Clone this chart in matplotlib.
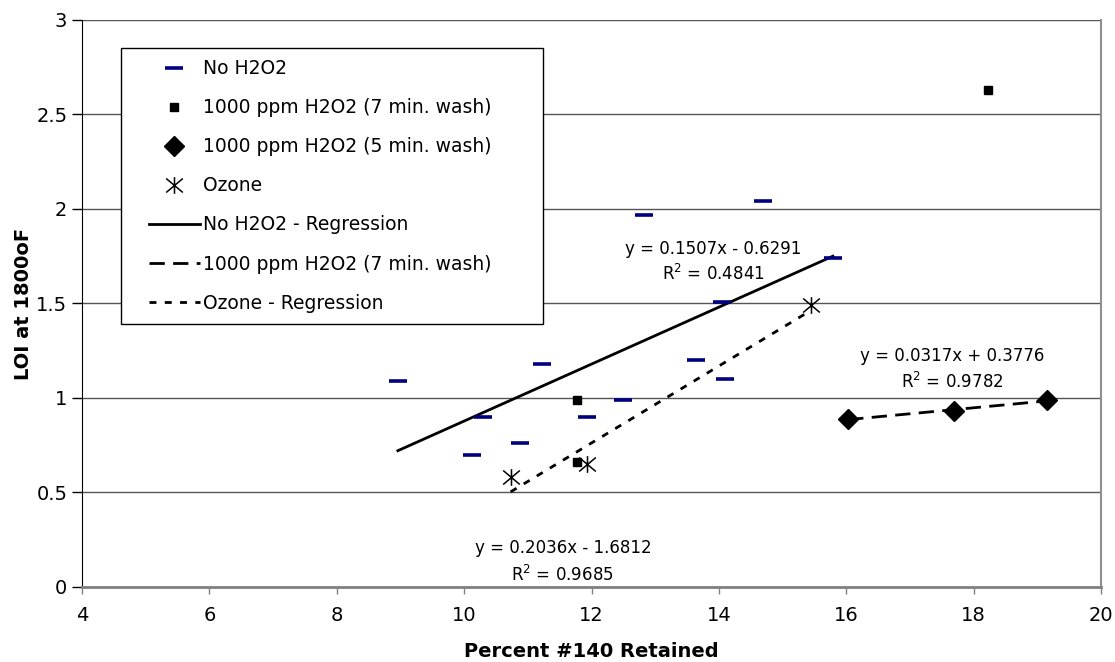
import matplotlib
matplotlib.use('Agg')
import matplotlib.pyplot as plt
from matplotlib.path import Path
from matplotlib.lines import Line2D
from matplotlib.legend_handler import HandlerLine2D

# data
no_h2o2_x = [8.96, 10.12, 10.30, 10.88, 11.22, 11.93, 12.49, 12.83, 13.64, 14.05, 14.09, 14.69, 15.79]
no_h2o2_y = [1.09, 0.70, 0.90, 0.76, 1.18, 0.90, 0.99, 1.97, 1.20, 1.51, 1.10, 2.04, 1.74]

wash7_x = [11.77, 11.77, 18.22]
wash7_y = [0.99, 0.66, 2.63]

wash5_x = [16.03, 17.69, 19.15]
wash5_y = [0.89, 0.93, 0.99]

ozone_x = [10.73, 11.93, 15.44]
ozone_y = [0.58, 0.65, 1.49]

# trendlines (slope, intercept) as printed on the chart
fit_no_h2o2 = (0.1507, -0.6291)
fit_wash5 = (0.0317, 0.3776)
fit_ozone = (0.2036, -1.6812)

eq_no_h2o2 = ['y = 0.1507x - 0.6291', 'R$^2$ = 0.4841']
eq_wash5 = ['y = 0.0317x + 0.3776', 'R$^2$ = 0.9782']
eq_ozone = ['y = 0.2036x - 1.6812', 'R$^2$ = 0.9685']

x_ticks = [4, 6, 8, 10, 12, 14, 16, 18, 20]
y_ticks = [0, 0.5, 1, 1.5, 2, 2.5, 3]
y_tick_labels = ['0', '0.5', '1', '1.5', '2', '2.5', '3']

plt.rcParams['font.family'] = ['DejaVu Sans']

# excel style star: X plus a vertical bar
star = Path([(-0.5, -0.42), (0.5, 0.42), (-0.5, 0.42), (0.5, -0.42), (0, -0.5), (0, 0.5)],
            [Path.MOVETO, Path.LINETO, Path.MOVETO, Path.LINETO, Path.MOVETO, Path.LINETO])

fig = plt.figure(figsize=(11.15, 6.62), dpi=100)
ax = fig.add_axes([0.0735, 0.1133, 0.9140, 0.8565])

h1, = ax.plot(no_h2o2_x, no_h2o2_y, ls='none', marker='_', ms=12.5, mew=2.6, color='#000080',
              label='No H2O2', zorder=4)
h2, = ax.plot(wash7_x, wash7_y, ls='none', marker='s', ms=6, color='black',
              label='1000 ppm H2O2 (7 min. wash)', zorder=4)
h3, = ax.plot(wash5_x, wash5_y, ls='none', marker='D', ms=10, color='black',
              label='1000 ppm H2O2 (5 min. wash)', zorder=4)
h4, = ax.plot(ozone_x, ozone_y, ls='none', marker=star, ms=12, mew=1.1, mfc='none', mec='black',
              label='Ozone', zorder=4)


def trend(xs, fit):
    x0, x1 = min(xs), max(xs)
    return [x0, x1], [fit[0] * x0 + fit[1], fit[0] * x1 + fit[1]]


lx, ly = trend(no_h2o2_x, fit_no_h2o2)
h5, = ax.plot(lx, ly, color='black', lw=2, label='No H2O2 - Regression', zorder=3)
lx, ly = trend(wash5_x, fit_wash5)
h6, = ax.plot(lx, ly, color='black', lw=2, ls=(0, (5.5, 3)),
              label='1000 ppm H2O2 (7 min. wash)', zorder=3)
lx, ly = trend(ozone_x, fit_ozone)
h7, = ax.plot(lx, ly, color='black', lw=2, ls=(0, (2.5, 3)), label='Ozone - Regression', zorder=3)

# regression equations
ax.text(13.91, 1.79, eq_no_h2o2[0], ha='center', va='center', fontsize=12)
ax.text(13.91, 1.655, eq_no_h2o2[1], ha='center', va='center', fontsize=12)
ax.text(17.66, 1.22, eq_wash5[0], ha='center', va='center', fontsize=12)
ax.text(17.66, 1.085, eq_wash5[1], ha='center', va='center', fontsize=12)
ax.text(11.55, 0.205, eq_ozone[0], ha='center', va='center', fontsize=12)
ax.text(11.55, 0.065, eq_ozone[1], ha='center', va='center', fontsize=12)

ax.set_xlim(4, 20)
ax.set_ylim(0, 3)
ax.set_xticks(x_ticks)
ax.set_yticks(y_ticks)
ax.set_yticklabels(y_tick_labels)
ax.grid(axis='y', color='#555555', lw=1)
ax.set_axisbelow(True)

ax.spines['top'].set_visible(False)
ax.spines['left'].set_color('black')
ax.spines['bottom'].set_color('#808080')
ax.spines['bottom'].set_linewidth(2)
ax.spines['right'].set_color('#909090')
ax.spines['right'].set_linewidth(1.5)

ax.tick_params(axis='y', direction='out', length=7, width=1, pad=3.5, labelsize=14)
ax.tick_params(axis='x', direction='out', length=5, width=1, color='#808080', pad=9, labelsize=14)

ax.set_xlabel('Percent #140 Retained', fontsize=14, fontweight='bold', labelpad=12)
ax.set_ylabel('LOI at 1800oF', fontsize=14, fontweight='bold', labelpad=2)

leg = ax.legend(handles=[h1, h2, h3, h4, h5, h6, h7], loc='upper left',
                bbox_to_anchor=(0.1085, 0.9275, 0.3785, 0), bbox_transform=fig.transFigure,
                mode='expand', borderaxespad=0, fontsize=13.5, labelspacing=1.07,
                handlelength=3.6, handletextpad=0.2, borderpad=0.6, fancybox=False,
                edgecolor='black', framealpha=1,
                handler_map={Line2D: HandlerLine2D(xpad=0.9)})
leg.get_frame().set_linewidth(1)

fig.savefig('out.png', dpi=100)
